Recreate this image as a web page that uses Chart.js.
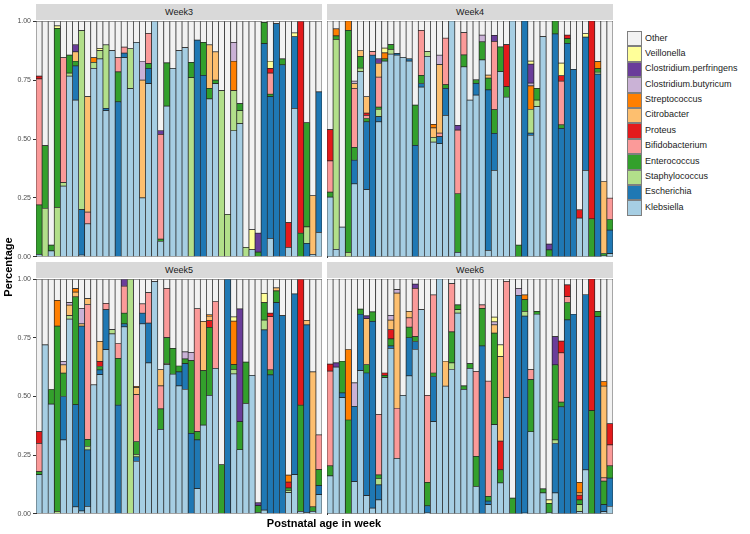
<!DOCTYPE html>
<html>
<head>
<meta charset="utf-8">
<script src="https://cdn.jsdelivr.net/npm/chart.js@4.4.1/dist/chart.umd.min.js"></script>
<style>
  body { margin: 0; background: #fff; font-family: "Liberation Sans", Arial, sans-serif; }
  #wrap { position: relative; width: 750px; height: 534px; overflow: hidden; }
  canvas { position: absolute; }
  .strip { position: absolute; height: 16px; line-height: 16px; background: #d9d9d9; color: #1a1a1a;
           font-size: 9px; text-align: center; }
  #ylab { position: absolute; left: -32px; top: 261px; width: 80px; text-align: center; font-size: 11px;
          font-weight: bold; color: #000; transform: rotate(-90deg); }
  #xlab { position: absolute; left: 224px; top: 517px; width: 200px; text-align: center; font-size: 11px;
          font-weight: bold; color: #000; }
  #legend { position: absolute; left: 627px; top: 31px; }
  .row { height: 15.4px; position: relative; }
  .key { position: absolute; left: 0; top: 0; width: 13.4px; height: 13.4px; border: 1px solid #7f7f7f; }
  .lbl { position: absolute; left: 18px; top: 1.5px; font-size: 9px; color: #1a1a1a; white-space: nowrap; }
</style>
</head>
<body>
<div id="wrap">
  <canvas id="c3" width="322" height="248" style="left:0;top:15px"></canvas>
  <canvas id="c4" width="287" height="248" style="left:326px;top:15px"></canvas>
  <canvas id="c5" width="322" height="247" style="left:0;top:273px"></canvas>
  <canvas id="c6" width="287" height="247" style="left:326px;top:273px"></canvas>
  <div class="strip" style="left:36px;top:4px;width:286px">Week3</div>
  <div class="strip" style="left:327px;top:4px;width:286px">Week4</div>
  <div class="strip" style="left:36px;top:262px;width:286px">Week5</div>
  <div class="strip" style="left:327px;top:262px;width:286px">Week6</div>
  <div id="ylab">Percentage</div>
  <div id="xlab">Postnatal age in week</div>
  <div id="legend"></div>
</div>
<script>
// genera, bottom of the stack first; Other is the remainder to 100%
const species = ['Klebsiella', 'Escherichia', 'Staphylococcus', 'Enterococcus', 'Bifidobacterium', 'Proteus',
  'Citrobacter', 'Streptococcus', 'Clostridium.butyricum', 'Clostridium.perfringens', 'Veillonella', 'Other'];
const keys = ['K', 'E', 'St', 'En', 'Bi', 'Pr', 'Ci', 'Sr', 'Cb', 'Cp', 'Ve'];
const colors = ['#a6cee3', '#1f78b4', '#b2df8a', '#33a02c', '#fb9a99', '#e31a1c',
  '#fdbf6f', '#ff7f00', '#cab2d6', '#6a3d9a', '#ffff99', '#f2f2f2'];
const yTicks = [0, 0.25, 0.5, 0.75, 1];

const week3 = [
  {K:.01, En:.21, Bi:.535, Pr:.012}, {St:.205, En:.267}, {K:.025, En:.025}, {St:.21, En:.76, Ve:.01},
  {K:.30, St:.015, Bi:.53}, {K:.767, St:.013, En:.076}, {K:.665, E:.145, En:.02, Ci:.04, Cp:.03},
  {K:.007, E:.193, St:.76}, {K:.14, Bi:.05, Ci:.49}, {K:.80, St:.025, Sr:.02}, {K:.84, St:.035, Ve:.01},
  {K:.62, E:.01, St:.27}, {K:.875}, {E:.658, En:.127, Bi:.06}, {K:.845, E:.02, Bi:.025}, {K:.714, St:.17},
  {K:.91}, {K:.25, Ci:.5, Cb:.08}, {K:.735, E:.065, En:.02, Bi:.128}, {K:1}, {K:.065, En:.01, Bi:.445, Cp:.015},
  {K:.64, En:.183}, {K:.80}, {K:.875}, {K:.888}, {St:.76, En:.065}, {E:.92}, {E:.77, En:.14},
  {K:.67, En:.045, Ci:.185}, {K:.735, En:.015, Ci:.12}, {St:.705}, {St:.18}, {K:.535, St:.17, Sr:.125, Cb:.08},
  {K:.565, St:.055, En:.03}, {St:.04}, {K:.03, Ve:.085}, {En:.02, Cp:.08}, {E:.905, En:.09},
  {K:.078, E:.602, En:.01, Bi:.09, Pr:.02, Ve:.03}, {E:.99}, {E:.815, En:.025}, {K:.04, Pr:.105},
  {K:.63, E:.305, Ve:.015}, {En:.1, Pr:.9}, {E:.057, St:.07, En:.443}, {K:.01, Ci:.25}, {K:.103, E:.597}
];
const week4 = [
  {K:.254, En:.021, Bi:.132, Pr:.133}, {K:.032, St:.89, En:.015, Sr:.03}, {K:.127}, {St:.02, En:.94, Sr:.04},
  {K:.31, E:.10, En:.055, Bi:.25, Ci:.02, Cb:.01}, {K:.785, St:.015, En:.05, Ci:.025},
  {K:.285, E:.288, En:.014, Bi:.013, Pr:.01, Ci:.07}, {E:.855, Bi:.015},
  {K:.573, E:.022, St:.03, En:.01, Bi:.127, Ci:.058, Cp:.02}, {K:.83, En:.01, Sr:.025, Ve:.02},
  {K:.86, St:.02, En:.02}, {K:.855, E:.008}, {K:.846}, {K:.83, E:.01}, {E:.473, En:.171},
  {K:.72, E:.015, En:.035, Bi:.19}, {K:.85, St:.02}, {K:.487, St:.02, Ci:.04, Sr:.015},
  {K:.48, E:.03, Bi:.015, Ci:.29, Cb:.04}, {K:.6, E:.115, En:.015, Bi:.197}, {K:1},
  {K:.02, En:.248, Bi:.27, Cp:.02}, {K:.806, En:.05, Bi:.095}, {K:.665}, {K:.686, E:.05, En:.015},
  {K:.835, En:.077, Cb:.028}, {K:.028, E:.68, En:.05, Ci:.013}, {K:.367, E:.157, En:.10, Bi:.29, Cp:.025},
  {K:.785, En:.105}, {K:.677, En:.045, Pr:.178}, {K:1}, {En:.05}, {E:1},
  {K:.515, E:.01, St:.10, Sr:.10, Cb:.012, Cp:.08, Ve:.013}, {K:.637, St:.028, En:.05}, {K:.934},
  {En:.03, Cp:.025}, {E:.945, En:.055}, {E:.545, En:.015, Bi:.185, Pr:.024, Ve:.053},
  {E:.905, En:.02, Pr:.015}, {E:.795}, {K:.165, Pr:.035}, {K:.367, E:.565, Ve:.015}, {En:.162, Pr:.838},
  {E:.775, St:.008, En:.015, Sr:.03}, {K:.005, En:.01, Ci:.305}, {K:.014, E:.1, En:.045, Bi:.09}
];
const week5 = [
  {K:.167, En:.013, Bi:.12, Pr:.05}, {K:.72}, {K:.468, En:.062}, {St:.01, En:.79, Sr:.11},
  {K:.315, E:.185, En:.10, Ci:.035, Cb:.015}, {K:.83, St:.015, Ci:.045, Cb:.01},
  {K:.03, E:.435, En:.46, Ci:.02, Sr:.015}, {K:.012, E:.788, Ci:.01, Cb:.066},
  {K:.032, E:.24, St:.015, En:.03, Bi:.575, Ci:.025}, {K:.55}, {K:.593, E:.02, En:.015, Pr:.022, Ci:.085},
  {K:.70, E:.17, Bi:.027}, {K:.767, St:.018}, {E:.463, En:.20, Bi:.063}, {K:.797, E:.013, En:.045, Bi:.115, Cp:.03},
  {St:1}, {K:.223, E:.02, St:.01, En:.055, Bi:.20, Ci:.03, Sr:.005}, {K:.81, E:.045, Bi:.04},
  {K:.643, E:.17, Bi:.13}, {K:.99}, {K:.36, En:.087, Bi:.098, Ci:.07}, {K:.636, St:.005, En:.11, Bi:.21},
  {K:.595, En:.11}, {K:.545, E:.06, En:.025}, {K:.53, E:.11, En:.02, Cb:.03}, {E:.343, En:.31, Cb:.035},
  {K:.107, E:.208, En:.035, Bi:.525}, {K:.378, En:.232, Ci:.21}, {K:.505, En:.29, Pr:.028, Ci:.02, Sr:.005},
  {K:.62, Bi:.285}, {En:.21}, {E:1}, {K:.596, St:.02, En:.02, Sr:.185, Ve:.018}, {K:.273, En:.12, Cp:.48},
  {K:.47, En:.177}, {K:.59}, {K:.005, En:.03, Cp:.012}, {K:.016, E:.768, St:.042, En:.074, Ve:.04},
  {E:.592, En:.022, Bi:.226, Pr:.015}, {E:.90, En:.05, Ci:.013}, {E:.845}, {K:.09, St:.01, En:.01, Pr:.025, Sr:.03},
  {K:.167, E:.77}, {K:.01, En:.453, Pr:.537}, {K:.005, E:.80, Ci:.02}, {K:.01, En:.02, Ci:.575},
  {K:.082, E:.038, En:.068, Bi:.148}
];
const week6 = [
  {K:.162, En:.043, Bi:.403, Pr:.03}, {K:.625, Cp:.018}, {K:.495, E:.02, En:.135}, {En:.40, Sr:.30},
  {K:.138, E:.32, Cb:.10}, {K:.61, E:.24, En:.022}, {K:.078, E:.522, En:.036, Ci:.195, Cp:.012},
  {K:.025, E:.795, En:.04}, {K:.06, E:.064, St:.028, En:.014, Bi:.258}, {K:.58, En:.01, Pr:.01},
  {K:.705, E:.01, En:.03, Pr:.04, Ci:.04, Cb:.02}, {K:.237, Bi:.213, Ci:.49, Cb:.015}, {K:.505},
  {K:.588, E:.162, En:.045, Bi:.04, Ci:.027}, {K:.70, E:.034, En:.021, Bi:.205, Cp:.018}, {K:.87},
  {K:.005, E:.03, En:.10, Bi:.37}, {K:.393, E:.192, En:.015, Bi:.332}, {K:1}, {K:.544, Ci:.106},
  {K:.615, St:.028, En:.132, Bi:.205}, {K:.855, St:.015, En:.02}, {K:.53, En:.015}, {K:.62, En:.02},
  {K:.117, En:.128, Bi:.362}, {E:.715, En:.16, Bi:.015}, {K:.04, E:.015, En:.02, Bi:.49},
  {K:.38, En:.39, Ci:.035, Cb:.013, Ve:.02}, {K:.132, En:.056, Pr:.122, Ci:.36, Ve:.05}, {K:.495, Bi:.495},
  {En:.068}, {E:.93, Cb:.03}, {K:.004, E:.838, St:.02, En:.05, Sr:.02}, {K:.35, En:.222, Bi:.042},
  {K:.85, En:.012}, {K:.09, En:.017}, {K:.005, En:.04, Ve:.015}, {K:.09, E:.21, St:.015, En:.32, Cp:.12},
  {E:.456, En:.02, Bi:.21, Pr:.05}, {E:.826, En:.074, Bi:.025, Pr:.05}, {E:.85},
  {K:.01, St:.03, En:.02, Pr:.02, Sr:.045, Ci:.01}, {K:.188, E:.745}, {En:.44, Pr:.56}, {E:.84, En:.022},
  {K:.01, E:.03, En:.10, Bi:.014, Ci:.39, Sr:.02}, {K:.032, E:.121, En:.052, Bi:.089, Pr:.091}
];

const FONT = '"Liberation Sans", Arial, sans-serif';

function makePanel(id, bars, showAxisLabels) {
  const datasets = species.map((name, si) => {
    let data;
    if (name === 'Other') {
      data = bars.map(b => Math.max(0, 1 - keys.reduce((s, k) => s + (b[k] || 0), 0)));
    } else {
      data = bars.map(b => b[keys[si]] || null);
    }
    return { label: name, data, backgroundColor: colors[si] };
  });

  new Chart(document.getElementById(id), {
    type: 'bar',
    data: { labels: bars.map((_, i) => String(i + 1)), datasets },
    options: {
      responsive: false,
      animation: false,
      layout: { padding: { top: 6, bottom: 6, left: 0, right: 0 } },
      plugins: { legend: { display: false }, tooltip: { enabled: false } },
      datasets: {
        bar: { barPercentage: 1, categoryPercentage: 1, borderWidth: 0.7, borderColor: '#262626', borderSkipped: false }
      },
      scales: {
        x: { stacked: true, display: false },
        y: {
          stacked: true, min: 0, max: 1,
          afterBuildTicks: s => { s.ticks = yTicks.map(v => ({ value: v })); },
          afterFit: s => { s.width = showAxisLabels ? 36 : 1; },
          ticks: {
            display: showAxisLabels, padding: 2, color: '#4d4d4d',
            font: { size: 7, family: FONT },
            callback: v => v.toFixed(2)
          },
          grid: { drawOnChartArea: false, drawTicks: showAxisLabels, tickLength: 3, color: '#333333' },
          border: { display: true, color: '#333333', width: 1 }
        }
      }
    }
  });
}

makePanel('c3', week3, true);
makePanel('c4', week4, false);
makePanel('c5', week5, true);
makePanel('c6', week6, false);

// legend, Other on top like the reference
const legend = document.getElementById('legend');
for (let i = species.length - 1; i >= 0; i--) {
  const row = document.createElement('div');
  row.className = 'row';
  row.innerHTML = `<div class="key" style="background:${colors[i]}"></div><div class="lbl">${species[i]}</div>`;
  legend.appendChild(row);
}
</script>
</body>
</html>
